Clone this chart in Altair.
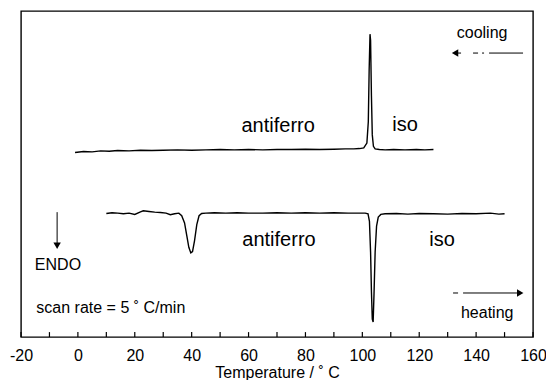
import altair as alt
import pandas as pd

# ---- data ----
cool_T = [-1, 2, 5, 8, 11, 14, 18, 22, 26, 30, 35, 40, 45, 50, 55, 60, 65, 70, 75, 80,
          85, 90, 94, 97, 99, 100.5, 101.6, 102.1, 102.4, 102.7, 102.9, 103.2, 103.5, 103.9,
          104.5, 106, 108, 111, 115, 119, 122, 125]
cool_S = [5.66, 5.69, 5.68, 5.71, 5.70, 5.72, 5.71, 5.73, 5.72, 5.73, 5.74, 5.73, 5.74, 5.75,
          5.74, 5.75, 5.74, 5.75, 5.75, 5.76, 5.75, 5.76, 5.77, 5.77, 5.78, 5.80, 5.95, 6.6,
          8.2, 9.29, 9.1, 7.4, 6.2, 5.85, 5.77, 5.75, 5.74, 5.75, 5.74, 5.75, 5.74, 5.75]

heat_T = [10, 12, 14, 16, 18, 20, 22, 23, 25, 27, 29, 31, 32.5, 34, 35.5, 36.5, 37.5, 38.3,
          39, 39.7, 40.3, 41, 41.8, 42.6, 43.5, 45, 48, 52, 56, 60, 65, 70, 75, 80, 85, 90,
          95, 99, 101, 102, 102.5, 102.9, 103.2, 103.5, 103.8, 104.1, 104.5, 105, 105.6,
          106.5, 108, 112, 116, 120, 125, 130, 135, 140, 145, 148, 150]
heat_S = [3.79, 3.81, 3.80, 3.78, 3.80, 3.76, 3.84, 3.87, 3.85, 3.83, 3.82, 3.80, 3.75, 3.78,
          3.80, 3.72, 3.50, 3.10, 2.75, 2.58, 2.62, 2.95, 3.45, 3.72, 3.79, 3.80, 3.81, 3.80,
          3.81, 3.80, 3.80, 3.81, 3.80, 3.81, 3.80, 3.81, 3.80, 3.80, 3.80, 3.78, 3.55, 2.6,
          1.4, 0.55, 0.46, 1.3, 2.6, 3.4, 3.68, 3.76, 3.78, 3.79, 3.77, 3.79, 3.78, 3.77,
          3.79, 3.78, 3.80, 3.77, 3.78]

x_ticks = [-20, 0, 20, 40, 60, 80, 100, 120, 140, 160]
minor_ticks = list(range(-20, 161, 10))

big_labels = ["antiferro", "iso", "antiferro", "iso"]
big_T = [70.4, 115, 70.7, 128]
big_S = [6.47, 6.50, 2.98, 2.98]

small_labels = ["cooling", "heating", "ENDO"]
small_T = [142.1, 143.9, -7.0]
small_S = [9.33, 0.74, 2.21]

note_label = ["scan rate = 5 ˚ C/min"]
note_T = [-14.6]
note_S = [0.89]

# arrows
cool_arrow_x = [132.6, 156.5]
cool_arrow_y = [8.71, 8.71]
heat_arrow_x = [131.9, 155.5]
heat_arrow_y = [1.35, 1.35]
endo_arrow_x = [-7.3, -7.3]
endo_arrow_y = [3.83, 2.80]

# ---- tables ----
curves = pd.concat([
    pd.DataFrame({"T": cool_T, "S": cool_S, "run": "cooling"}),
    pd.DataFrame({"T": heat_T, "S": heat_S, "run": "heating"}),
], ignore_index=True)
ticks_df = pd.DataFrame({"T": minor_ticks, "y0": [0.0] * len(minor_ticks),
                         "y1": [0.15] * len(minor_ticks)})
big_df = pd.DataFrame({"T": big_T, "S": big_S, "label": big_labels})
small_df = pd.DataFrame({"T": small_T, "S": small_S, "label": small_labels})
note_df = pd.DataFrame({"T": note_T, "S": note_S, "label": note_label})
cool_arr = pd.DataFrame({"x": [cool_arrow_x[0]], "x2": [cool_arrow_x[1]],
                         "y": [cool_arrow_y[0]], "y2": [cool_arrow_y[1]]})
heat_arr = pd.DataFrame({"x": [heat_arrow_x[0]], "x2": [heat_arrow_x[1]],
                         "y": [heat_arrow_y[0]], "y2": [heat_arrow_y[1]]})
endo_arr = pd.DataFrame({"x": [endo_arrow_x[0]], "x2": [endo_arrow_x[1]],
                         "y": [endo_arrow_y[0]], "y2": [endo_arrow_y[1]]})

FONT = "Liberation Sans"
xs = alt.Scale(domain=[-20, 160], nice=False, zero=False)
ys = alt.Scale(domain=[0, 10], nice=False, zero=False)

xaxis = alt.Axis(values=x_ticks, labelExpr="'' + datum.value", grid=False, ticks=False,
                 domain=False, labelFont=FONT, labelFontSize=16, labelColor="black",
                 labelPadding=10, labelFlush=False, title="Temperature / ˚ C",
                 titleFont=FONT, titleFontSize=16, titleFontWeight="normal",
                 titleColor="black", titlePadding=1)


def X(field):
    return alt.X(field, scale=xs, axis=xaxis)


def Y(field):
    return alt.Y(field, scale=ys, axis=None)


lines = alt.Chart(curves).mark_line(color="black", strokeWidth=1.4).encode(
    x=X("T:Q"), y=Y("S:Q"), detail="run:N"
)

tick_rules = alt.Chart(ticks_df).mark_rule(color="black", strokeWidth=1.2).encode(
    x=X("T:Q"), y=Y("y0:Q"), y2="y1:Q"
)

big_text = alt.Chart(big_df).mark_text(font=FONT, fontSize=20, color="black").encode(
    x=X("T:Q"), y=Y("S:Q"), text="label:N"
)
small_text = alt.Chart(small_df).mark_text(font=FONT, fontSize=16, color="black").encode(
    x=X("T:Q"), y=Y("S:Q"), text="label:N"
)
note_text = alt.Chart(note_df).mark_text(font=FONT, fontSize=16, color="black",
                                         align="left").encode(
    x=X("T:Q"), y=Y("S:Q"), text="label:N"
)


def arrow_line(df, dash):
    if dash:
        m = alt.Chart(df).mark_rule(color="black", strokeWidth=1, strokeDash=dash)
    else:
        m = alt.Chart(df).mark_rule(color="black", strokeWidth=1)
    return m.encode(x=X("x:Q"), x2="x2:Q", y=Y("y:Q"), y2="y2:Q")


def head(df, xcol, ycol, shape):
    return alt.Chart(df).mark_point(filled=True, color="black", size=55, opacity=1,
                                    shape=shape).encode(x=X(xcol), y=Y(ycol))


chart = alt.layer(
    tick_rules, lines, big_text, small_text, note_text,
    arrow_line(cool_arr, [6, 12, 5, 4, 2, 5, 40]),
    arrow_line(heat_arr, [5, 5, 60]),
    arrow_line(endo_arr, None),
    head(cool_arr, "x:Q", "y:Q", "triangle-left"),
    head(heat_arr, "x2:Q", "y:Q", "triangle-right"),
    head(endo_arr, "x:Q", "y2:Q", "triangle-down"),
).properties(
    width=512, height=326,
    padding={"left": 21, "top": 11, "right": 13, "bottom": 43},
    autosize=alt.AutoSizeParams(type="none"),
).configure_view(stroke="black", strokeWidth=1.4)

chart.save("out.html", embed_options={"renderer": "svg", "actions": False})
